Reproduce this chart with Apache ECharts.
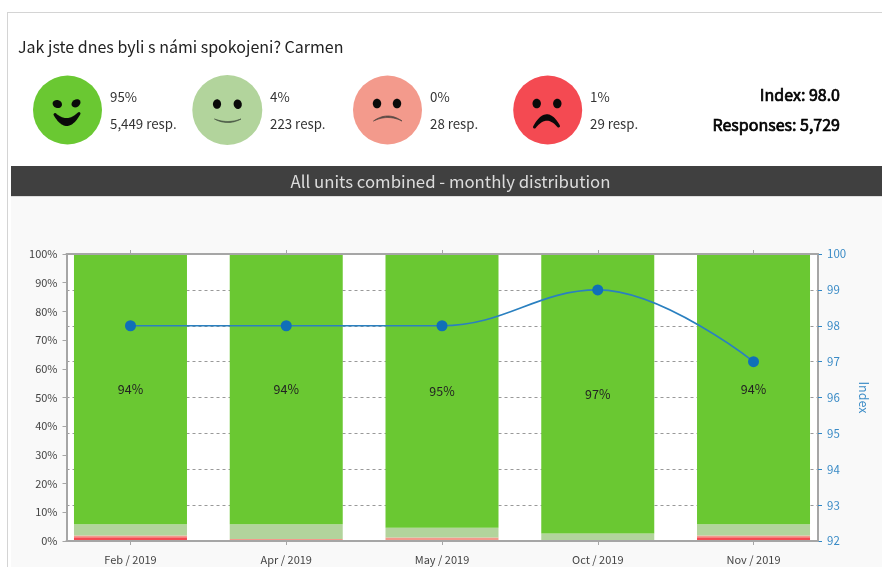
<!DOCTYPE html>
<html>
<head>
<meta charset="utf-8">
<script src="https://cdn.jsdelivr.net/npm/echarts@6/dist/echarts.min.js"></script>
<style>
html,body{margin:0;padding:0;background:#fff;width:882px;height:567px;overflow:hidden}
#panel{position:absolute;left:7px;top:12px;width:875px;height:555px;border-left:1px solid #d4d4d4;border-top:1px solid #d4d4d4;box-sizing:border-box}
#low{position:absolute;left:11px;top:196px;width:871px;height:371px;background:#f9f9f9;border-top:1px solid #ddd;box-sizing:border-box}
#bar{position:absolute;left:11px;top:166px;width:871px;height:30px;background:#404040}
#c{position:absolute;left:0;top:0;width:882px;height:567px}
</style>
</head>
<body>
<div id="panel"></div><div id="low"></div><div id="bar"></div>
<div id="c"></div>
<script>
const categories = ['Feb / 2019','Apr / 2019','May / 2019','Oct / 2019','Nov / 2019'];
const veryBad = [1.3, 0, 0, 0, 1.3];
const bad = [0.6, 0.7, 1.2, 0.1, 0.6];
const good = [3.9, 5.1, 3.4, 2.5, 3.9];
const veryGood = [94.2, 94.2, 95.4, 97.4, 94.2];
const indexValues = [98, 98, 98, 99, 97];
const faceStats = [
  ['95%','5,449 resp.'],['4%','223 resp.'],['0%','28 resp.'],['1%','29 resp.']
];
const colors = {veryGood:'#6ac832', good:'#b2d49c', bad:'#f39a8c', veryBad:'#f44a52'};
const FONT = '"Noto Sans CJK SC","Noto Sans",sans-serif';

function txt(x,y,text,size,color,align,bold){
  const style = {text:text,font:size+'px '+FONT,fill:color,align:align||'left',verticalAlign:'middle'};
  if (bold) { style.stroke = color; style.lineWidth = 0.7; }
  return {type:'text',x:x,y:y,silent:true,style:style};
}
function circle(cx,cy,r,fill){return {type:'circle',silent:true,shape:{cx:cx,cy:cy,r:r},style:{fill:fill}};}
function eye(cx,cy,rx,ry,rot){
  return {type:'ellipse',silent:true,x:cx,y:cy,rotation:rot||0,shape:{cx:0,cy:0,rx:rx,ry:ry},style:{fill:'#0a0a0a'}};
}
// mouth outline between two quadratic arcs sharing end points
function crescent(x1,y1,x2,y2,c1,c2,fill,w){
  const pts=[]; const mx=(x1+x2)/2;
  for(let i=0;i<=24;i++){const t=i/24,u=1-t;pts.push([u*u*x1+2*u*t*mx+t*t*x2,u*u*y1+2*u*t*c1+t*t*y2]);}
  for(let i=24;i>=0;i--){const t=i/24,u=1-t;pts.push([u*u*x1+2*u*t*mx+t*t*x2,u*u*y1+2*u*t*c2+t*t*y2]);}
  return {type:'polygon',silent:true,shape:{points:pts},style:{fill:fill,stroke:fill,lineWidth:w||0.8,lineJoin:'round'}};
}
const faces = [
  circle(67.5,110,34.5,colors.veryGood),
  eye(57.3,104,4.8,4,-0.3), eye(76,103.3,4.8,3.8,0.6),
  crescent(55,114.5,79,113.5,125,135,'#0a0a0a',3),
  circle(227.3,110,35,colors.good),
  eye(217,104,4.1,4.8,0), eye(237.7,104.3,4.1,4.8,0.2),
  crescent(214.5,119,241,119,124,126,'#4d5c48'),
  circle(387.5,110,34.5,colors.bad),
  eye(377,103.5,4.2,4.8,0), eye(397,103.5,4.2,4.8,0),
  crescent(373.5,121,402,121,111,114,'#5a4a45'),
  circle(547.7,110,34.5,colors.veryBad),
  eye(536.7,103.5,4.2,4.8,0), eye(557.3,103.5,4.2,4.8,0),
  crescent(534.5,127,558.5,126,105,112,'#0a0a0a',3)
];
const xs = [110,270,430,590];
const texts = [txt(18,47,'Jak jste dnes byli s námi spokojeni? Carmen',16,'#222')];
faceStats.forEach((s,i)=>{
  texts.push(txt(xs[i],97,s[0],13.3,'#333'));
  texts.push(txt(xs[i],124,s[1],13.3,'#333'));
});
texts.push(txt(840,95,'Index: 98.0',16,'#000','right',true));
texts.push(txt(840,125,'Responses: 5,729',16,'#000','right',true));
texts.push(txt(450.5,182,'All units combined - monthly distribution',16.8,'#dcdcdc','center'));

function stackSeries(name,vals,color,label){
  return {name:name,type:'bar',stack:'s',barWidth:113,xAxisIndex:2,yAxisIndex:2,
    data:vals,itemStyle:{color:color},
    label:label?{show:true,position:'inside',color:'#222',fontSize:12.5,fontFamily:FONT,
      formatter:p=>Math.round(p.value)+'%'}:{show:false}};
}
const frame = {color:'#a6a6a6',width:2};
const chart = echarts.init(document.getElementById('c'),null,{renderer:'canvas'});
chart.setOption({
  animation:false,
  backgroundColor:'transparent',
  textStyle:{fontFamily:FONT},
  graphic:{elements:faces.concat(texts)},
  grid:[
    {left:66.5,right:64,top:254,bottom:26,show:true,backgroundColor:'#fff',borderWidth:0},
    {left:52.6,width:778.8,top:254,bottom:26,show:false}
  ],
  xAxis:[
    // frame lines of the visible plot
    {gridIndex:0,type:'value',min:0,max:1,position:'bottom',z:5,splitLine:{show:false},
     axisLine:{show:true,onZero:false,lineStyle:frame},axisTick:{show:false},axisLabel:{show:false}},
    {gridIndex:0,type:'value',min:0,max:1,position:'top',z:5,splitLine:{show:false},
     axisLine:{show:true,onZero:false,lineStyle:frame},axisTick:{show:false},axisLabel:{show:false}},
    // category scale carrying the bars and the line
    {gridIndex:1,type:'category',data:categories,position:'bottom',z:5,
     axisLine:{show:false,onZero:false},
     axisTick:{show:true,alignWithLabel:true,length:4,lineStyle:{color:'#a6a6a6'}},
     axisLabel:{color:'#444',fontSize:11,margin:13}},
    {gridIndex:1,type:'category',data:categories,position:'top',z:5,
     axisLine:{show:false,onZero:false},
     axisTick:{show:true,alignWithLabel:true,length:4,lineStyle:{color:'#a6a6a6'}},
     axisLabel:{show:false}}
  ],
  yAxis:[
    {gridIndex:0,type:'value',min:0,max:100,interval:10,position:'left',splitLine:{show:false},
     axisLine:{show:true,onZero:false,lineStyle:frame},
     axisTick:{show:true,length:4,lineStyle:{color:'#a6a6a6'}},
     axisLabel:{color:'#444',fontSize:11,margin:9,formatter:'{value}%'}},
    {gridIndex:0,type:'value',min:92,max:100,interval:1,position:'right',
     name:'Index',nameLocation:'middle',nameRotate:-90,nameGap:38,
     nameTextStyle:{color:'#3a8bc6',fontSize:12.5},
     splitLine:{show:true,lineStyle:{color:'#999',type:[3,3],width:1}},
     axisLine:{show:true,onZero:false,lineStyle:frame},
     axisTick:{show:true,length:4,lineStyle:{color:'#2f86c5'}},
     axisLabel:{color:'#3a8bc6',fontSize:11.5,margin:9}},
    {gridIndex:1,type:'value',min:0,max:100,show:false},
    {gridIndex:1,type:'value',min:92,max:100,show:false}
  ],
  series:[
    stackSeries('Very dissatisfied',veryBad,colors.veryBad),
    stackSeries('Dissatisfied',bad,colors.bad),
    stackSeries('Satisfied',good,colors.good),
    stackSeries('Very satisfied',veryGood,colors.veryGood,true),
    {name:'Index',type:'line',xAxisIndex:2,yAxisIndex:3,smooth:0.4,z:10,
     data:indexValues,symbol:'circle',symbolSize:11,
     lineStyle:{color:'#2a80c0',width:1.6},itemStyle:{color:'#1070b8'},label:{show:false}}
  ]
});
</script>
</body>
</html>
